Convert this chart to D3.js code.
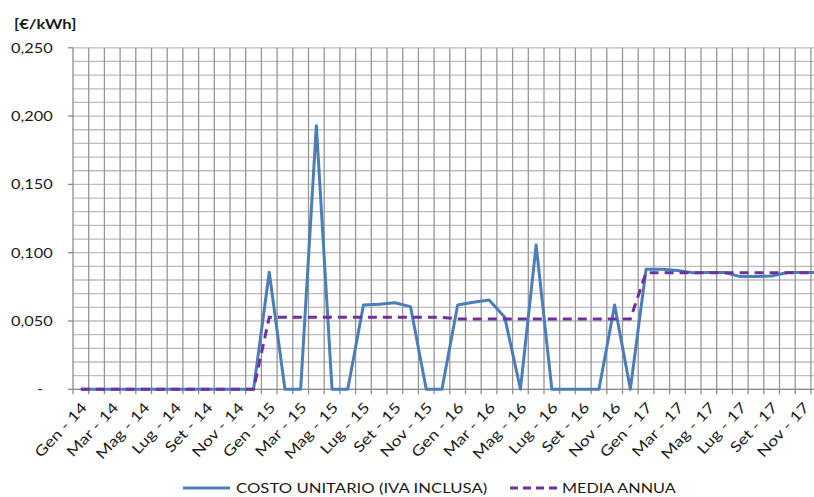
<!DOCTYPE html>
<html><head><meta charset="utf-8">
<script src="https://cdn.jsdelivr.net/npm/d3@7"></script>
<style>
html,body{margin:0;padding:0;background:#fff;}
svg{display:block;}
text{font-family:Lato,"Open Sans",sans-serif;fill:#1a1a1a;}
</style></head>
<body>
<svg id="chart" width="814" height="497"></svg>
<script>
const categories = [
 "Gen - 14","Feb - 14","Mar - 14","Apr - 14","Mag - 14","Giu - 14","Lug - 14","Ago - 14","Set - 14","Ott - 14","Nov - 14","Dic - 14",
 "Gen - 15","Feb - 15","Mar - 15","Apr - 15","Mag - 15","Giu - 15","Lug - 15","Ago - 15","Set - 15","Ott - 15","Nov - 15","Dic - 15",
 "Gen - 16","Feb - 16","Mar - 16","Apr - 16","Mag - 16","Giu - 16","Lug - 16","Ago - 16","Set - 16","Ott - 16","Nov - 16","Dic - 16",
 "Gen - 17","Feb - 17","Mar - 17","Apr - 17","Mag - 17","Giu - 17","Lug - 17","Ago - 17","Set - 17","Ott - 17","Nov - 17","Dic - 17"];
const costoUnitario = [
 0,0,0,0,0,0,0,0,0,0,0,0,
 0.0857,0,0,0.193,0,0,0.0617,0.0622,0.0634,0.0605,0,0,
 0.0617,0.0637,0.0654,0.0527,0,0.1056,0,0,0,0,0.0617,0,
 0.0878,0.0878,0.087,0.0854,0.0855,0.0855,0.0825,0.0825,0.083,0.0855,0.0855,0.0855];
const mediaAnnua = [
 0,0,0,0,0,0,0,0,0,0,0,0,
 0.0527,0.0527,0.0527,0.0527,0.0527,0.0527,0.0527,0.0527,0.0527,0.0527,0.0527,0.0527,
 0.0515,0.0515,0.0515,0.0515,0.0515,0.0515,0.0515,0.0515,0.0515,0.0515,0.0515,0.0515,
 0.0854,0.0854,0.0854,0.0854,0.0854,0.0854,0.0854,0.0854,0.0854,0.0854,0.0854,0.0854];
const yTickValues = [0,0.05,0.10,0.15,0.20,0.25];
const seriesNames = ["COSTO UNITARIO (IVA INCLUSA)","MEDIA ANNUA"];
const unitLabel = "[€/kWh]";

(function(){
const SX = 1.23; // horizontal text stretch
const svg = d3.select("#chart");
const pL = 73, pT = 47.8, pB = 389.3, pR = 826.6;
const x = d3.scaleBand().domain(categories).range([pL, pR]).padding(0);
const y = d3.scaleLinear().domain([0, 0.25]).range([pB, pT]);

const g = svg.append("g");
g.selectAll("line.h").data(d3.range(0, 26).map(k => k / 100)).join("line")
  .attr("x1", pL).attr("x2", pR)
  .attr("y1", d => y(d)).attr("y2", d => y(d))
  .attr("stroke", "#bdbdbd").attr("stroke-width", 1.3);
const bounds = categories.map(c => x(c)).concat([pR]);
g.selectAll("line.v").data(bounds.slice(1)).join("line")
  .attr("x1", d => d).attr("x2", d => d)
  .attr("y1", pT).attr("y2", pB)
  .attr("stroke", "#969696").attr("stroke-width", 1.3);

svg.append("line").attr("x1", pL).attr("x2", pL).attr("y1", pT).attr("y2", pB)
  .attr("stroke", "#8c8c8c").attr("stroke-width", 1.3);
svg.append("line").attr("x1", pL).attr("x2", pR).attr("y1", pB).attr("y2", pB)
  .attr("stroke", "#8c8c8c").attr("stroke-width", 1.3);
svg.selectAll("line.xt").data(bounds).join("line")
  .attr("x1", d => d).attr("x2", d => d).attr("y1", pB).attr("y2", pB + 5)
  .attr("stroke", "#8c8c8c").attr("stroke-width", 1.3);
svg.selectAll("line.yt").data(yTickValues).join("line")
  .attr("x1", pL - 5).attr("x2", pL).attr("y1", d => y(d)).attr("y2", d => y(d))
  .attr("stroke", "#8c8c8c").attr("stroke-width", 1.3);

const fmt = v => v === 0 ? "-" : d3.format(".3f")(v).replace(".", ",");
svg.selectAll("text.yl").data(yTickValues).join("text")
  .attr("text-anchor", "end")
  .attr("transform", d => `translate(${d === 0 ? 43 : 52.7},${y(d) + 4.8}) scale(${SX},1)`)
  .style("font-size", "13.3px")
  .text(fmt);

svg.append("text").attr("transform", `translate(14,28.5) scale(${SX},1)`)
  .style("font-size", "13.5px").style("font-weight", "bold").text(unitLabel);

svg.selectAll("text.xl").data(categories.filter((c, i) => i % 2 === 0)).join("text")
  .attr("text-anchor", "end")
  .attr("transform", d => `translate(${x(d) + x.bandwidth() / 2 + 7},${pB + 19}) rotate(-47) scale(${SX},1)`)
  .style("font-size", "14.5px")
  .text(d => d);

const line = d3.line().x((d, i) => x(categories[i]) + x.bandwidth() / 2).y(d => y(d));
svg.append("path").datum(costoUnitario).attr("d", line)
  .attr("fill", "none").attr("stroke", "#4a7ebb").attr("stroke-width", 3).attr("stroke-linejoin", "round");
svg.append("path").datum(mediaAnnua).attr("d", line)
  .attr("fill", "none").attr("stroke", "#7030a0").attr("stroke-width", 3).attr("stroke-dasharray", "9,6");

const ly = 488;
svg.append("line").attr("x1", 183).attr("x2", 230).attr("y1", ly).attr("y2", ly)
  .attr("stroke", "#4a7ebb").attr("stroke-width", 3);
svg.append("text").attr("transform", `translate(236,${ly + 5.2}) scale(${SX},1)`)
  .style("font-size", "13.6px").text(seriesNames[0]);
svg.append("line").attr("x1", 510).attr("x2", 557).attr("y1", ly).attr("y2", ly)
  .attr("stroke", "#7030a0").attr("stroke-width", 3).attr("stroke-dasharray", "8,5");
svg.append("text").attr("transform", `translate(562,${ly + 5.2}) scale(${SX * 0.97},1)`)
  .style("font-size", "13.6px").text(seriesNames[1]);
})();
</script>
</body></html>
